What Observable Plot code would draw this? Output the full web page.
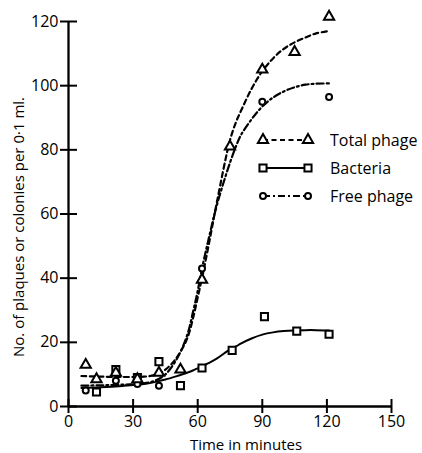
<!DOCTYPE html>
<html><head><meta charset="utf-8">
<script src="https://cdn.jsdelivr.net/npm/d3@7"></script>
<script src="https://cdn.jsdelivr.net/npm/@observablehq/plot@0.6"></script>
<style>
body{margin:0;background:#fff}
#chart svg{display:block}
</style>
</head><body><div id="chart"></div>
<script>
// ---- data ----
const xTicks = [0, 30, 60, 90, 120, 150];
const yTicks = [0, 20, 40, 60, 80, 100, 120];

const seriesNames = ["Total phage", "Bacteria", "Free phage"];

const totalTime  = [8, 13, 22, 32, 42, 52, 62, 75, 90, 105, 121];
const totalValue = [13, 8.5, 10.5, 8.5, 10.5, 11.5, 39.5, 81, 105, 110.5, 121.5];

const bactTime  = [13, 22, 32, 42, 52, 62, 76, 91, 106, 121];
const bactValue = [4.5, 11.5, 9, 14, 6.5, 12, 17.5, 28, 23.5, 22.5];

const freeTime  = [8, 22, 32, 42, 62, 90, 121];
const freeValue = [5, 8, 7, 6.5, 43, 95, 96.5];

// fitted curves drawn by hand in the original
const fitTime  = [6, 15, 25, 35, 40, 45, 50, 55, 58, 60, 62, 65, 69, 75, 78, 80, 85, 90, 95, 100, 105, 110, 115, 121];
const totalFit = [9.5, 9.3, 9.2, 9.3, 9.8, 11.5, 15, 21, 28, 34, 40, 50, 64, 83, 89, 92, 99, 104.5, 108.5, 111.5, 113.5, 115, 116.3, 117];
const freeFit  = [6.5, 6.6, 6.8, 7.2, 8, 10, 14.5, 22, 30, 36, 43, 52, 63, 76, 81.5, 84.5, 89.5, 93.5, 96.3, 98.2, 99.5, 100.3, 100.6, 100.7];
const bactFit  = [5.8, 6, 6.4, 7, 7.6, 8.4, 9.4, 10.5, 11.3, 11.9, 12.5, 13.5, 15, 17.8, 18.8, 19.6, 21.2, 22.4, 23.1, 23.5, 23.7, 23.8, 23.8, 23.7];

// ---- layout ----
const W = 422, H = 453, mL = 68, mR = 31, mT = 21, mB = 47;
const frameW = W - mL - mR, frameH = H - mT - mB;
const FONT = "'Open Sans', sans-serif";
const FS = 16;

const pts = (t, v) => t.map((d, i) => ({t: d, v: v[i]}));

const styles = {
  "Total phage": {symbol: d3.symbolTriangle, r: 3.8, dash: "5,3.5"},
  "Bacteria":    {symbol: d3.symbolSquare,   r: 4.0, dash: null},
  "Free phage":  {symbol: d3.symbolCircle,   r: 3.0, dash: "7,3,2,3"}
};

function legendMark(index, scales, values, dims) {
  const g = d3.create("svg:g");
  const xa = dims.marginLeft + 195, xb = dims.marginLeft + 240, xt = dims.marginLeft + 262;
  seriesNames.forEach((name, i) => {
    const s = styles[name];
    const y = dims.marginTop + 119 + i * 28;
    const line = g.append("line").attr("x1", xa).attr("x2", xb).attr("y1", y).attr("y2", y)
      .attr("stroke", "black").attr("stroke-width", 2);
    if (s.dash) line.attr("stroke-dasharray", s.dash);
    for (const x of [xa, xb]) {
      g.append("path").attr("d", d3.symbol(s.symbol, Math.PI * s.r * s.r)())
        .attr("transform", `translate(${x},${y})`)
        .attr("fill", "white").attr("stroke", "black").attr("stroke-width", 2);
    }
    g.append("text").attr("x", xt).attr("y", y).attr("dy", "0.36em")
      .attr("text-anchor", "start")
      .attr("font-family", FONT).attr("font-size", FS).attr("fill", "black").text(name);
  });
  return g.node();
}

const chart = Plot.plot({
  width: W, height: H,
  marginLeft: mL, marginRight: mR, marginTop: mT, marginBottom: mB,
  style: {fontFamily: FONT, fontSize: FS + "px", color: "black", background: "white"},
  x: {domain: [0, 150]},
  y: {domain: [0, 120]},
  marks: [
    // curves
    Plot.line(pts(fitTime, bactFit),  {x: "t", y: "v", curve: "catmull-rom", stroke: "black", strokeWidth: 2}),
    Plot.line(pts(fitTime, totalFit), {x: "t", y: "v", curve: "catmull-rom", stroke: "black", strokeWidth: 2.2, strokeDasharray: "5,3.5"}),
    Plot.line(pts(fitTime, freeFit),  {x: "t", y: "v", curve: "catmull-rom", stroke: "black", strokeWidth: 2.2, strokeDasharray: "7,3,2,3"}),
    // axes lines & crossing ticks
    Plot.ruleY([0], {stroke: "black", strokeWidth: 2.3}),
    Plot.ruleX([0], {stroke: "black", strokeWidth: 2.3}),
    Plot.ruleX(xTicks, {stroke: "black", strokeWidth: 2, insetTop: frameH - 7, insetBottom: -7}),
    Plot.ruleY(yTicks, {stroke: "black", strokeWidth: 2, insetLeft: -8, insetRight: frameW - 9}),
    Plot.axisX({ticks: xTicks, tickSize: 0, tickPadding: 9, label: null, fontSize: FS}),
    Plot.axisY({ticks: yTicks, tickSize: 0, tickPadding: 10, label: null, fontSize: FS}),
    // points
    Plot.dot(pts(bactTime, bactValue),  {x: "t", y: "v", symbol: "square",   r: 4.0, fill: "white", stroke: "black", strokeWidth: 2}),
    Plot.dot(pts(freeTime, freeValue),  {x: "t", y: "v", symbol: "circle",   r: 3.0, fill: "white", stroke: "black", strokeWidth: 2}),
    Plot.dot(pts(totalTime, totalValue),{x: "t", y: "v", symbol: "triangle", r: 3.8, fill: "white", stroke: "black", strokeWidth: 2}),
    // axis titles
    Plot.text(["Time in minutes"], {frameAnchor: "bottom", lineAnchor: "bottom", dx: 16, dy: 43.5, fontSize: 15, fill: "black"}),
    Plot.text(["No. of plaques or colonies per 0·1 ml."], {frameAnchor: "left", rotate: -90, textAnchor: "middle", lineAnchor: "middle", dx: -49, dy: 13, fontSize: 15, fill: "black"}),
    legendMark
  ]
});
document.getElementById("chart").append(chart);
</script>
</body></html>
